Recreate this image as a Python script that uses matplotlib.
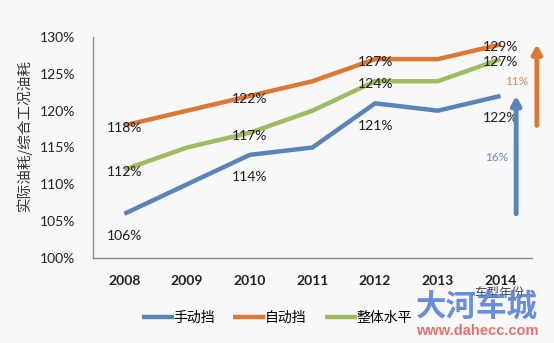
import matplotlib
matplotlib.use("Agg")
import matplotlib.pyplot as plt

plt.rcParams['font.family'] = ['Lato', 'Noto Sans CJK SC', 'DejaVu Sans']

years = ['2008', '2009', '2010', '2011', '2012', '2013', '2014']
manual = [106, 110, 114, 115, 121, 120, 122]
automatic = [118, 120, 122, 124, 127, 127, 129]
overall = [112, 115, 117, 120, 124, 124, 127]
series_names = ['手动挡', '自动挡', '整体水平']
labeled_years = ['2008', '2010', '2012', '2014']
y_ticks = [100, 105, 110, 115, 120, 125, 130]
manual_gain = '16%'
auto_gain = '11%'

colors = ['#5a84b8', '#dc7831', '#9fbb5f']
label_dy = [-16, -2, -2]

fig = plt.figure(figsize=(5.54, 3.43), dpi=100, facecolor='#f8f8f9')
ax = fig.add_axes([0.168, 0.248, 0.792, 0.644])
ax.set_facecolor('#f8f8f9')

x = list(range(len(years)))
for vals, name, col, dy in zip([manual, automatic, overall], series_names, colors, label_dy):
    ax.plot(x, vals, color=col, lw=3.2, solid_capstyle='butt', label=name)
    for yr in labeled_years:
        i = years.index(yr)
        ax.annotate(f'{vals[i]}%', (i, vals[i]), xytext=(0, dy), textcoords='offset points',
                    ha='center', va='center', fontsize=10, color='#1e1e1e')

ax.set_xlim(-0.5, 6.5)
ax.set_ylim(100, 130)
ax.set_xticks(x)
ax.set_xticklabels(years, fontsize=10, fontweight='bold', color='#222222')
ax.set_yticks(y_ticks)
ax.set_yticklabels([f'{v}%' for v in y_ticks], fontsize=10, color='#222222')
ax.tick_params(axis='both', length=0)
ax.tick_params(axis='y', pad=13)
ax.tick_params(axis='x', pad=12)
for s in ['top', 'right']:
    ax.spines[s].set_visible(False)
for s in ['left', 'bottom']:
    ax.spines[s].set_color('#8a8a8a')
    ax.spines[s].set_linewidth(1.0)

ax.set_ylabel('实际油耗/综合工况油耗', fontsize=10.5, color='#333333',
              family=['Noto Sans CJK SC'])
ax.yaxis.set_label_coords(-0.14, 0.557)

# growth arrows from first to last year
arrow_style = '-|>,head_width=0.28,head_length=0.5'
ax.annotate('', xy=(6.25, manual[-1]), xytext=(6.25, manual[0]),
            arrowprops=dict(arrowstyle=arrow_style, color=colors[0], lw=3.5,
                            shrinkA=0, shrinkB=0),
            annotation_clip=False)
ax.text(5.94, (manual[0] + manual[-1]) / 2 - 0.4, manual_gain, fontsize=8.5,
        color='#5f8dbf', ha='center', va='center')
ax.annotate('', xy=(6.58, automatic[-1]), xytext=(6.58, automatic[0]),
            arrowprops=dict(arrowstyle=arrow_style, color=colors[1], lw=3.5,
                            shrinkA=0, shrinkB=0),
            annotation_clip=False)
ax.text(6.26, (automatic[0] + automatic[-1]) / 2 + 0.4, auto_gain, fontsize=8.5,
        color='#d98a4f', ha='center', va='center')

fig.text(499 / 554, 1 - 293 / 343, '车型年份', fontsize=9, color='#444444',
         ha='center', va='center', family=['Noto Sans CJK SC'])

leg = fig.legend(loc='center', bbox_to_anchor=(0.5, 0.073), ncol=3, frameon=False,
                 handlelength=2.3, handletextpad=0.0, columnspacing=1.3,
                 prop={'family': 'Noto Sans CJK SC', 'size': 10})

# site watermark
fig.text(477 / 554, 1 - 307 / 343, '大河车城', fontsize=22, fontweight='bold',
         color='#4f7cd6', alpha=0.85, ha='center', va='center',
         family=['Noto Sans CJK SC'])
fig.text(477 / 554, 1 - 331 / 343, 'www.dahecc.com', fontsize=10.5, fontweight='bold',
         color='#e05a5a', alpha=0.85, ha='center', va='center',
         family=['Liberation Sans'])

fig.savefig('out.png', dpi=100, facecolor=fig.get_facecolor())
